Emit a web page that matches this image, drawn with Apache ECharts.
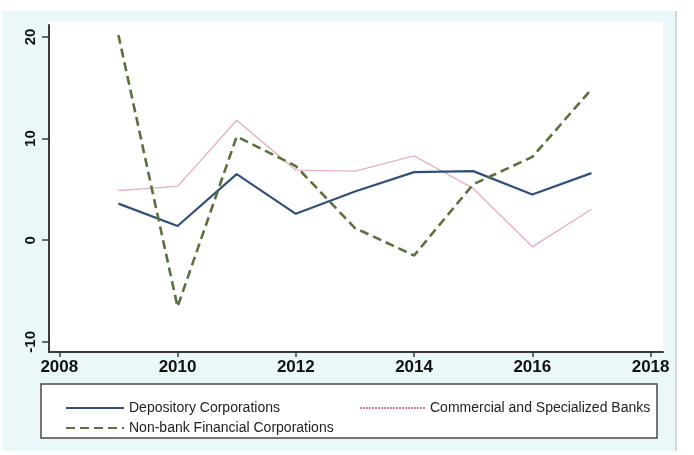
<!DOCTYPE html>
<html>
<head>
<meta charset="utf-8">
<script src="https://cdn.jsdelivr.net/npm/echarts@6/dist/echarts.min.js"></script>
<style>
html,body{margin:0;padding:0;background:#ffffff;}
#chart{width:694px;height:455px;}
</style>
</head>
<body>
<div id="chart"></div>
<script>
var years = [2009, 2010, 2011, 2012, 2013, 2014, 2015, 2016, 2017];
var depository = [3.6, 1.4, 6.5, 2.6, 4.8, 6.7, 6.8, 4.5, 6.6];
var commercial = [4.9, 5.3, 11.8, 6.9, 6.8, 8.3, 5.1, -0.65, 3.05];
var nonbank = [20.2, -6.55, 10.2, 7.3, 1.2, -1.5, 5.5, 8.2, 14.85];
var xTicks = [2008, 2010, 2012, 2014, 2016, 2018];
var yTicks = [-10, 0, 10, 20];
var names = ['Depository Corporations', 'Commercial and Specialized Banks', 'Non-bank Financial Corporations'];

function pairs(vals) { return years.map(function (y, i) { return [y, vals[i]]; }); }

var chart = echarts.init(document.getElementById('chart'), null, {renderer: 'canvas'});
var axisColor = '#3b3b3b';
var font = 'Liberation Sans, Arial, sans-serif';
var legendText = {fontFamily: font, fontSize: 14, color: '#222'};
var option = {
  animation: false,
  backgroundColor: '#ffffff',
  graphic: [
    {type: 'rect', z: -10, shape: {x: 2, y: 11, width: 674, height: 440}, style: {fill: '#ebf8fa'}},
    {type: 'line', z: -9, shape: {x1: 676, y1: 11, x2: 676, y2: 451}, style: {stroke: '#c4cbcd', lineWidth: 1.5}},
    {type: 'rect', z: -8, shape: {x: 49, y: 22, width: 614, height: 330}, style: {fill: '#ffffff'}},
    {type: 'rect', z: 1, shape: {x: 41, y: 384, width: 616, height: 54}, style: {fill: '#ffffff', stroke: '#4a4a4a', lineWidth: 1.5}}
  ],
  grid: {left: 49, right: 31, top: 25, bottom: 103, containLabel: false},
  xAxis: {
    type: 'value', min: 2007.826, max: 2018.21,
    axisLine: {show: true, onZero: false, lineStyle: {color: axisColor, width: 2}},
    axisTick: {show: true, length: 5, customValues: xTicks, lineStyle: {color: axisColor, width: 1.5}},
    axisLabel: {customValues: xTicks, margin: 7, formatter: function (v) { return String(v); },
      fontFamily: font, fontWeight: 'bold', fontSize: 17, color: '#111'},
    splitLine: {show: false}
  },
  yAxis: {
    type: 'value', min: -11.0, max: 21.18,
    axisLine: {show: true, onZero: false, lineStyle: {color: axisColor, width: 2}},
    axisTick: {show: true, length: 7, customValues: yTicks, lineStyle: {color: axisColor, width: 1.5}},
    axisLabel: {customValues: yTicks, rotate: 90, margin: 11, formatter: function (v) { return String(v); },
      fontFamily: font, fontWeight: 'bold', fontSize: 15, color: '#111'},
    splitLine: {show: false}
  },
  legend: [
    {data: [names[0]], left: 60, top: 396, itemWidth: 58, itemHeight: 14,
     itemStyle: {opacity: 0}, textStyle: legendText, z: 5},
    {data: [{name: names[1], lineStyle: {color: '#d97f95', width: 2, type: [2, 1]}}], left: 354, top: 396, itemWidth: 65, itemHeight: 14,
     itemStyle: {opacity: 0}, textStyle: legendText, z: 5},
    {data: [names[2]], left: 60, top: 416, itemWidth: 58, itemHeight: 14,
     itemStyle: {opacity: 0}, textStyle: legendText, z: 5}
  ],
  series: [
    {name: names[1], type: 'line', data: pairs(commercial), symbol: 'none', z: 2,
     lineStyle: {color: '#eab0bd', width: 1.4}, itemStyle: {color: '#eab0bd'}},
    {name: names[0], type: 'line', data: pairs(depository), symbol: 'none', z: 3,
     lineStyle: {color: '#30507a', width: 2.2}, itemStyle: {color: '#30507a'}},
    {name: names[2], type: 'line', data: pairs(nonbank), symbol: 'none', z: 4,
     lineStyle: {color: '#5c6f3e', width: 2.6, type: [9, 5]}, itemStyle: {color: '#5c6f3e'}}
  ]
};
chart.setOption(option);
</script>
</body>
</html>
